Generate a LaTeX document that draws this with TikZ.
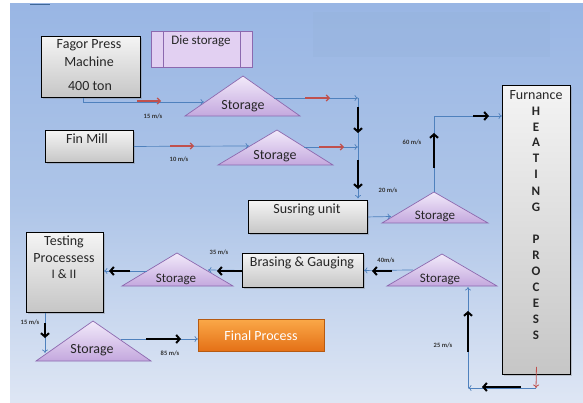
\documentclass[tikz,border=0pt]{standalone}
\usepackage{fontspec}
\setmainfont{Carlito}
\usetikzlibrary{arrows.meta,shadows}
\definecolor{bgtop}{RGB}{153,182,228}
\definecolor{bgmid}{RGB}{174,197,232}
\definecolor{bgbot}{RGB}{222,230,244}
\definecolor{flowblue}{RGB}{79,129,189}
\definecolor{flowred}{RGB}{192,80,77}
\definecolor{lavtop}{RGB}{242,234,250}
\definecolor{lavbot}{RGB}{196,168,222}
\definecolor{lavedge}{RGB}{140,105,175}
\definecolor{graytop}{RGB}{244,244,244}
\definecolor{graybot}{RGB}{198,198,198}
\definecolor{orgtop}{RGB}{250,168,72}
\definecolor{orgbot}{RGB}{228,112,22}
\definecolor{faint}{RGB}{150,178,216}
\newcommand{\StorTri}[6]{%
  \coordinate (#1-a) at (#2,#3);
  \coordinate (#1-l) at (#4,#6);
  \coordinate (#1-r) at (#5,#6);
  \path[tri] (#1-a) -- (#1-r) -- (#1-l) -- cycle;}
\newcommand{\BigArr}[3]{%
  \coordinate (#1s) at (#2); \coordinate (#1e) at (#3);
  \draw[bigarrow] (#1s) -- (#1e);}
\newcommand{\RedArr}[3]{%
  \coordinate (#1s) at (#2); \coordinate (#1e) at (#3);
  \draw[redflow] (#1s) -- (#1e);}
\tikzset{
  graybox/.style={draw=black, line width=0.9pt, top color=graytop, bottom color=graybot,
    inner sep=0pt, anchor=north west,
    drop shadow={shadow xshift=1.2pt, shadow yshift=-1.2pt, opacity=0.35}},
  tri/.style={draw=lavedge, line width=0.7pt, top color=lavtop, bottom color=lavbot, line join=miter},
  flow/.style={draw=flowblue, line width=0.7pt, -{To[length=3.5pt,width=6pt]}},
  plainflow/.style={draw=flowblue, line width=0.7pt},
  redflow/.style={draw=flowred, line width=1.2pt, -{Straight Barb[length=3pt,width=6pt]}},
  bigarrow/.style={draw=black, line width=2pt, -{Straight Barb[length=3.5pt,width=8pt]}},
  txt/.style={font=\fontsize{14}{16}\selectfont, inner sep=0pt, text=black!85},
  stxt/.style={font=\fontsize{13}{15}\selectfont, inner sep=0pt, text=black!85},
  rate/.style={font=\fontsize{6.5}{7}\bfseries\selectfont, inner sep=0pt, text=black!80},
  furn/.style={font=\fontsize{13}{15}\bfseries\selectfont, inner sep=0pt, text=black!85},
}
\begin{document}
\begin{tikzpicture}[x=1pt,y=-1pt]
\useasboundingbox (0,0) rectangle (583,403);
% background
\path[top color=bgtop, bottom color=bgbot, middle color=bgmid] (10,4) rectangle (583,402);
\fill[faint, opacity=0.3] (313,12) rectangle (550,57);
\draw[flowblue!80!black, line width=1pt] (30,5) -- (50,5);

% boxes
\node[graybox, minimum width=99pt, minimum height=61pt] (fagor) at (41,36) {};
\node[txt] (fagorA) at (89,45) {Fagor Press};
\node[txt] (fagorB) at (89,62) {Machine};
\node[txt] (fagorC) at (90,86) {400 ton};

\node[draw=lavedge, line width=0.8pt, fill={rgb,255:red,226;green,208;blue,242}, inner sep=0pt,
  anchor=north west, minimum width=101pt, minimum height=36pt] (die) at (151,31) {};
\draw[lavedge, line width=0.8pt] ([xshift=12pt]die.north west) -- ([xshift=12pt]die.south west);
\draw[lavedge, line width=0.8pt] ([xshift=-12pt]die.north east) -- ([xshift=-12pt]die.south east);
\node[stxt] (dieT) at (201,41) {Die storage};

\node[graybox, minimum width=88pt, minimum height=32pt] (finmill) at (45,130) {};
\node[txt] (finT) at (87,139) {Fin Mill};

\node[graybox, minimum width=119pt, minimum height=33pt] (susring) at (248,200) {};
\node[txt] (susT) at (307,210) {Susring unit};

\node[graybox, minimum width=121pt, minimum height=34pt] (brasing) at (242,253) {};
\node[txt] (braT) at (302,263) {Brasing \& Gauging};

\node[graybox, minimum width=77pt, minimum height=80pt] (testing) at (26,232) {};
\node[txt] (tesA) at (64,242) {Testing};
\node[txt] (tesB) at (64,258) {Processess};
\node[stxt] (tesC) at (64,274) {I \& II};

\node[draw=orgbot!80!black, line width=0.5pt, top color=orgtop, bottom color=orgbot, inner sep=0pt,
  anchor=north west, minimum width=126pt, minimum height=32pt,
  drop shadow={shadow xshift=1.2pt, shadow yshift=-1.2pt, opacity=0.3}] (final) at (198,319) {};
\node[txt, text=white] (finalT) at (261,336) {Final Process};

\node[graybox, minimum width=68pt, minimum height=289pt] (furnace) at (502,85) {};
\node[txt] (furnT) at (536,95) {Furnance};
\node[furn] (fH) at (536,111) {H};
\node[furn] (fE) at (536,127) {E};
\node[furn] (fA) at (536,142) {A};
\node[furn] (fT) at (536,158) {T};
\node[furn] (fI) at (536,174) {I};
\node[furn] (fN) at (536,191) {N};
\node[furn] (fG) at (536,207) {G};
\node[furn] (fP) at (536,239) {P};
\node[furn] (fR) at (536,255) {R};
\node[furn] (fO) at (536,271) {O};
\node[furn] (fC) at (536,287) {C};
\node[furn] (fE2) at (536,303) {E};
\node[furn] (fS) at (536,319) {S};
\node[furn] (fS2) at (536,335) {S};

% storage triangles
\StorTri{s1}{243}{76}{185}{300}{116}
\node[txt] (s1T) at (243,106) {Storage};
\StorTri{s2}{277}{130}{218}{333}{165}
\node[txt] (s2T) at (275,156) {Storage};
\StorTri{s3}{434}{192}{382}{488}{223}
\node[stxt] (s3T) at (435,216) {Storage};
\StorTri{s4}{442}{254}{387}{497}{286}
\node[stxt] (s4T) at (440,279) {Storage};
\StorTri{s5}{177}{253}{122}{233}{286}
\node[stxt] (s5T) at (176,279) {Storage};
\StorTri{s6}{93}{321}{36}{151}{361}
\node[txt] (s6T) at (92,350) {Storage};

% connector coordinates
\coordinate (s1in) at (204,102);
\coordinate (s2in) at (249,146);
\coordinate (s1out) at (274,98);
\coordinate (j1) at (358,98);
\coordinate (s2out) at (304,147);
\coordinate (j2) at (358,147);
\coordinate (s3in) at (391,216.5);
\coordinate (j3) at (434,116);
\coordinate (j4) at (536,388);
\coordinate (j5) at (468,388);
\coordinate (s4in) at (468,287);
\coordinate (s4out) at (413,270);
\coordinate (s5in) at (208,270);
\coordinate (s5out) at (147,271);
\coordinate (s6in) at (45,353);
\coordinate (s6out) at (121,339);

% blue flows
\draw[flow] ([xshift=42pt]fagor.south west) |- (s1in);
\draw[flow] (finmill.east) -- (s2in);
\draw[flow] (s1out) -- (j1);
\draw[flow] (s2out) -- (j2);
\draw[flow, shorten >=1.5pt] (j1) -- (susring.north -| j1);
\draw[flow] (susring.east) -- (s3in);
\draw[plainflow] (s3-a) -- (j3);
\draw[flow] (j3) -- (furnace.west |- j3);
\draw[redflow, -{To[length=3.5pt,width=6pt]}, line width=0.8pt] ([yshift=8pt]furnace.south) -- (j4);
\draw[flow] (j4) -- (j5);
\draw[flow] (j5) -- (s4in);
\draw[flow] (s4out) -- (brasing.east);
\draw[flow] (brasing.west) -- (s5in);
\draw[flow] (s5out) -- (testing.east |- s5out);
\draw[flow] (testing.south -| s6in) -- (s6in);
\draw[flow] (s6out) -- (final.west |- s6out);

% red arrows
\RedArr{r1}{137,101}{161,101}
\RedArr{r2}{170,146}{194,146}
\RedArr{r3}{305,98}{330,98}
\RedArr{r4}{319,147}{344,147}

% black arrows
\BigArr{b1}{358,107}{358,133}
\BigArr{b2}{358,160}{358,189}
\BigArr{b3}{434,168}{434,133}
\BigArr{b4}{473,116}{489,116}
\BigArr{b5}{521,387}{482,387}
\BigArr{b6}{468,352}{468,311}
\BigArr{b7}{392,271}{372,271}
\BigArr{b8}{242,271}{217,271}
\BigArr{b9}{130,271}{109,271}
\BigArr{b10}{45,323}{45,338}
\BigArr{b11}{146,339}{181,339}

% rate labels
\node[rate] (l1) at (153,116) {15 m/s};
\node[rate] (l2) at (179,159) {10 m/s};
\node[rate] (l3) at (388,190) {20 m/s};
\node[rate] (l4) at (412,142) {60 m/s};
\node[rate] (l5) at (443,345) {25 m/s};
\node[rate] (l6) at (386,260) {40m/s};
\node[rate] (l7) at (219,252) {35 m/s};
\node[rate] (l8) at (30,322) {15 m/s};
\node[rate] (l9) at (170,353) {85 m/s};
\end{tikzpicture}
\end{document}
